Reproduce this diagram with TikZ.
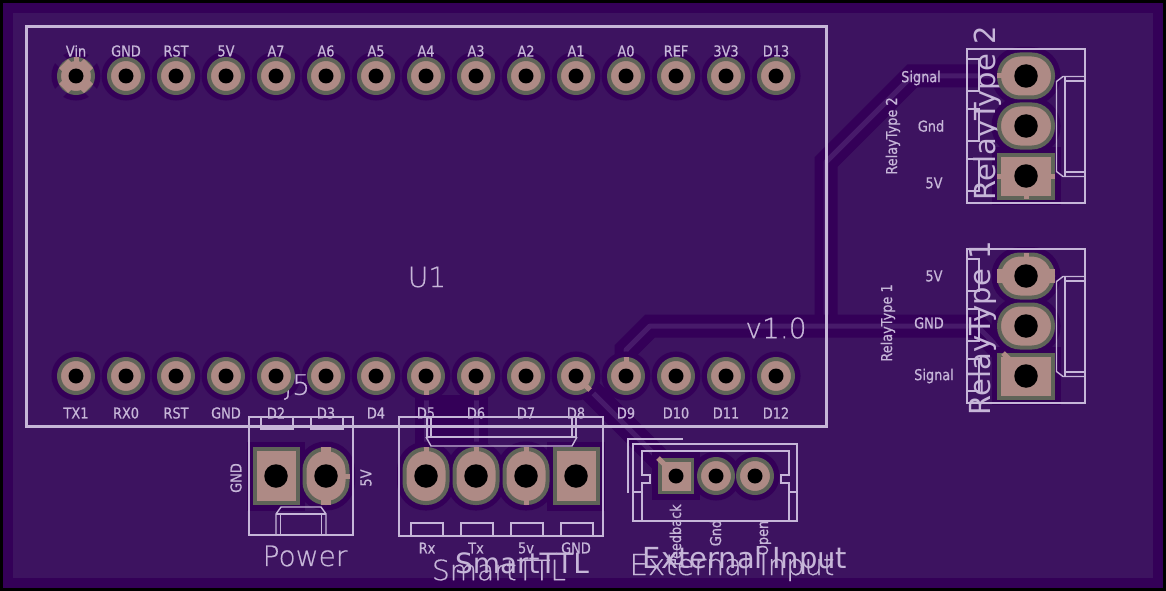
\documentclass[tikz,border=0pt]{standalone}
\usepackage{fontspec}
\setmainfont{DejaVu Sans}
\newfontfamily\silkthin[FakeBold=0.6]{DejaVu Sans ExtraLight}
\newfontfamily\silksmall[FakeBold=0.6,FakeStretch=0.86]{DejaVu Sans}
\usetikzlibrary{calc}
\definecolor{mysub}{HTML}{340058}
\definecolor{myzone}{HTML}{3D1360}
\definecolor{mytrace}{HTML}{471A6A}
\definecolor{mysilk}{HTML}{C6B6D8}
\definecolor{mypad}{HTML}{AE8A85}
\definecolor{myring}{HTML}{5F6458}
\pgfdeclarelayer{board}
\pgfdeclarelayer{cu}
\pgfdeclarelayer{silk}
\pgfdeclarelayer{halo}
\pgfdeclarelayer{drill}
\pgfsetlayers{board,cu,halo,silk,main,drill}
\tikzset{
  padpin/.style={circle,draw=myring,fill=mypad,line width=4pt,minimum size=34pt,inner sep=0pt},
  padsmall/.style={padpin},
  padsqext/.style={rectangle,draw=myring,fill=mypad,line width=3.5pt,minimum size=32.5pt,inner sep=0pt},
  padsqv/.style={rectangle,draw=myring,fill=mypad,line width=4pt,minimum width=43pt,minimum height=54pt,inner sep=0pt},
  padsqh/.style={rectangle,draw=myring,fill=mypad,line width=4pt,minimum width=54pt,minimum height=43pt,inner sep=0pt},
  padovv/.style={padsqv,rounded corners=21pt},
  padovh/.style={padsqh,rounded corners=21pt},
  halo/.style={draw=mysub,fill=mysub,line width=15pt},
  hole/.style={circle,fill=black,inner sep=0pt},
  stub/.style={draw=mypad,line width=5pt},
  silkline/.style={draw=mysilk,line width=1.4pt},
  modline/.style={draw=mysilk,line width=2.5pt},
  trackline/.style={draw=mytrace,line width=5pt,line join=round,preaction={draw=mysub,line width=23pt}},
  smalltext/.style={text=mysilk,inner sep=0pt,font=\silksmall\fontsize{15}{16}\selectfont},
  bigtext/.style={text=mysilk,inner sep=0pt,font=\fontsize{29}{30}\selectfont},
  thintext/.style={text=mysilk,inner sep=0pt,font=\silkthin\fontsize{28}{30}\selectfont},
}
\begin{document}
\begin{tikzpicture}[x=1pt,y=-1pt]
\useasboundingbox (0,0) rectangle (1166,591);

\begin{pgfonlayer}{board}
\fill[black] (0,0) rectangle (1166,591);
\fill[mysub] (3,3) rectangle (1163,588);
\fill[myzone] (13,13) rectangle (1153,578);
\end{pgfonlayer}

% all pads: name/x/y/style/drill
\foreach \n/\x/\y/\k/\h in {
  j1/276/476/padsqv/23.5,j2/326/476/padovv/23.5,
  t1/426/476/padovv/23.5,t2/476/476/padovv/23.5,t3/526/476/padovv/23.5,t4/576/476/padsqv/23.5,
  e1/676/476/padsqext/15,e2/716/476/padsmall/15,e3/755/476/padsmall/15,
  a1/1026/76/padovh/23.5,a2/1026/126/padovh/23.5,a3/1026/176/padsqh/23.5,
  b1/1026/276/padovh/23.5,b2/1026/326/padovh/23.5,b3/1026/376/padsqh/23.5}{
  \node[\k] (\n) at (\x,\y) {};
  \begin{pgfonlayer}{halo}
    \node[\k,halo] (\n h) at (\x,\y) {};
  \end{pgfonlayer}
  \begin{pgfonlayer}{drill}
    \node[hole,minimum size=\h pt] (\n d) at (\x,\y) {};
  \end{pgfonlayer}
}

% arduino header, both rows
\foreach \y/\r in {76/u,376/d}{
  \foreach \i in {1,2,...,15}{
    \node[padpin] (\r\i) at (26+50*\i,\y) {};
    \begin{pgfonlayer}{halo}
      \node[padpin,halo] (\r\i h) at (26+50*\i,\y) {};
    \end{pgfonlayer}
    \begin{pgfonlayer}{drill}
      \node[hole,minimum size=15pt] (\r\i d) at (26+50*\i,\y) {};
    \end{pgfonlayer}
  }
}

\coordinate (sigbend) at (912,76);
\coordinate (sigdown) at (826,162);
\coordinate (sigjoin) at (826,326);
\coordinate (nineup) at (626,350);
\coordinate (nineright) at (650,326);
\coordinate (nineend) at (977,326);

\begin{pgfonlayer}{cu}
% no zone left between the two tx/rx tracks
\fill[mysub] (426,395) rectangle (476,447);
\draw[trackline] (a1.center) -- (sigbend) -- (sigdown) -- (sigjoin);
\draw[trackline] (d12.center) -- (nineup) -- (nineright) -- (nineend) -- (b3.center);
\draw[trackline] (d11.center) -- (e1.center);
\draw[trackline] (d8.center) -- (t1.center);
\draw[trackline] (d9.center) -- (t2.center);
\end{pgfonlayer}

% thermal gaps round the first pin
\begin{pgfonlayer}{halo}
\draw[myzone,line width=11pt] ($(u1)+(-24,-24)$) -- ($(u1)+(24,24)$);
\draw[myzone,line width=11pt] ($(u1)+(-24,24)$) -- ($(u1)+(24,-24)$);
\end{pgfonlayer}

\begin{pgfonlayer}{silk}
\draw[modline] (26.5,26.5) rectangle (826.5,426.5);

% power
\draw[silkline] (249,417) rectangle (353,535);
\draw[silkline] (261,417) rectangle (293,429);
\draw[silkline] (311,417) rectangle (343,429);
\draw[silkline] (276,535) -- (276,514) -- (281,507) -- (321,507) -- (326,514) -- (326,535);
\draw[silkline] (276,514) -- (326,514) (280.5,514) -- (280.5,535) (321.5,514) -- (321.5,535);

% smart ttl
\draw[silkline] (399,417) rectangle (603,536);
\foreach \x in {411,461,511,561}{
  \draw[silkline] (\x,536) rectangle (\x+32,523);
}
\draw[silkline] (427,417) -- (427,437) -- (576,437) -- (576,417);
\draw[silkline] (431,417) -- (431,437) (572,417) -- (572,437);
\draw[silkline] (426,437) -- (431,446) -- (572,446) -- (577,437);

% external input
\draw[silkline] (633,444) rectangle (797,521);
\draw[silkline] (642,521) -- (642,483) -- (650,483) -- (650,475) -- (642,475) -- (642,451)
  -- (789,451) -- (789,475) -- (781,475) -- (781,483) -- (789,483) -- (789,521);
\draw[silkline] (633,492) -- (642,492) (789,492) -- (797,492);
\draw[silkline] (628,493) -- (628,439) -- (683,439);

% relay connectors
\foreach \d/\r in {0/k,200/m}{
  \draw[silkline] (967,49+\d) rectangle (1085,203+\d);
  \foreach \t in {59,109,159}{
    \draw[silkline] (967,\t+\d) rectangle (979,\t+32+\d);
  }
  \draw[silkline] (1085,76.5+\d) -- (1063,76.5+\d) -- (1056.5,81.5+\d) -- (1056.5,171.5+\d)
    -- (1063,176.5+\d) -- (1085,176.5+\d);
  \draw[silkline] (1065,76.5+\d) -- (1065,176.5+\d) (1065,81+\d) -- (1085,81+\d) (1065,172+\d) -- (1085,172+\d);
}

% header labels
\foreach \lab [count=\i] in {Vin,GND,RST,5V,A7,A6,A5,A4,A3,A2,A1,A0,REF,3V3,D13}{
  \node[smalltext] (top\i) at (26+50*\i,51) {\lab};
}
\foreach \lab [count=\i] in {TX1,RX0,RST,GND,D2,D3,D4,D5,D6,D7,D8,D9,D10,D11,D12}{
  \node[smalltext] (bot\i) at (26+50*\i,413) {\lab};
}

\node[thintext] (modname) at (427,277) {U1};
\node[thintext] (version) at (776,328) {v1.0};
\node[thintext] (jname) at (297,387) {J5};
\node[thintext] (powername) at (305,556) {Power};

\node[smalltext,rotate=90] (gndp) at (236,478) {GND};
\node[smalltext,rotate=90] (fivep) at (366,478) {5V};

\node[smalltext] (rx) at (427,548) {Rx};
\node[smalltext] (tx) at (476,548) {Tx};
\node[smalltext] (fivet) at (526,548) {5v};
\node[smalltext] (gndt) at (576,548) {GND};
\node[thintext] (ttlb) at (499,570) {SmartTTL};
\node[bigtext,font=\fontsize{28}{30}\selectfont] (ttlf) at (522,563) {SmartTTL};

\node[smalltext,rotate=90,anchor=base] (feed) at (681,535) {Feedback};
\node[smalltext,rotate=90,anchor=base] (gnde) at (721,533) {Gnd};
\node[smalltext,rotate=90,anchor=base] (opene) at (768,538) {Open};
\node[thintext,font=\silkthin\fontsize{29}{30}\selectfont,anchor=base] (extb) at (732,575) {External Input};
\node[bigtext,anchor=base] (extf) at (745,568) {External Input};

\node[smalltext] (siga) at (921,78) {Signal};
\node[smalltext] (gnda) at (931,126) {Gnd};
\node[smalltext] (fivea) at (934,183) {5V};
\node[smalltext,rotate=90,anchor=base] (rela) at (897,136) {RelayType 2};
\node[bigtext,rotate=90,anchor=base] (bigrela) at (995,113.5) {RelayType 2};

\node[smalltext] (fiveb) at (934,276) {5V};
\node[smalltext] (gndb) at (929,323) {GND};
\node[smalltext] (sigb) at (934,376) {Signal};
\node[smalltext,rotate=90,anchor=base] (relb) at (892,323) {RelayType 1};
\node[bigtext,rotate=90,anchor=base] (bigrelb) at (990,328.5) {RelayType 1};
\end{pgfonlayer}

% thermal spokes and track entries
\draw[stub,line width=13pt] ($(u1)+(-12.5,-12.5)$) -- ($(u1)+(12.5,12.5)$);
\draw[stub,line width=13pt] ($(u1)+(-12.5,12.5)$) -- ($(u1)+(12.5,-12.5)$);
\draw[stub] (u1.center) -- ++(0,-19);
\draw[stub] (d8.center) -- ++(0,19);
\draw[stub] (d9.center) -- ++(0,19);
\draw[stub] (d12.center) -- ++(0,-19);
\draw[stub] (d11.center) -- ++(14,14);
\draw[stub] (e1.center) -- ++(-18,-18);
\draw[stub] (b3.center) -- ++(-23,-23);
\draw[stub] (a1.center) -- ++(-29,0);
\draw[stub] (a3.center) -- ++(-29,0);
\draw[stub] (a3.center) -- ++(29,0);
\draw[stub] (a3.center) -- ++(0,23);
\draw[stub] (b1.center) -- ++(0,-23);
\draw[stub,line width=14pt] (b1.center) -- ++(-29,0);
\draw[stub,line width=14pt] (b1.center) -- ++(29,0);
\draw[stub,line width=10pt] (j2.center) -- ++(0,-29);
\draw[stub,line width=10pt] (j2.center) -- ++(0,29);
\draw[stub] (j2.center) -- ++(24,0);
\draw[stub] (t1.center) -- ++(0,-29);
\draw[stub] (t2.center) -- ++(0,-29);
\draw[stub] (t3.center) -- ++(0,-29);
\draw[stub] (t3.center) -- ++(0,29);
\end{tikzpicture}
\end{document}
